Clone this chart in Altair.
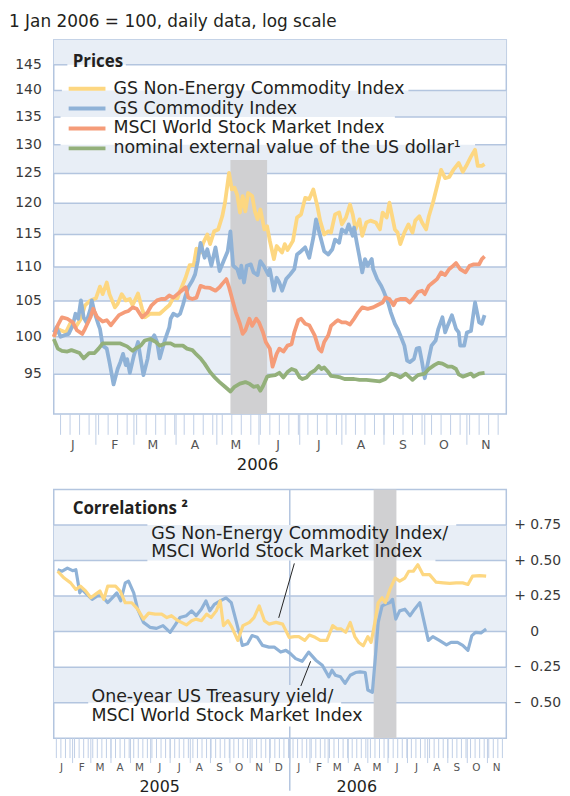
import altair as alt
import pandas as pd

REG = "DejaVu Sans"
BOLD = "Open Sans"
TXT = "#231f20"
AXIS_TXT = "#3a3a3a"
GRID = "#b3c5df"
BAND = "#e8eef6"
SHADE = "#d0d0d2"
TICK = "#bfcfe6"

month_letters = ["J", "F", "M", "A", "M", "J", "J", "A", "S", "O", "N", "D"]

# ---------------- top panel: prices (1 Jan 2006 = 100), points = (days since 1 Jan 2006, value)
header_text = ["1 Jan 2006 = 100, daily data, log scale"]
top_names = ["GS Non-Energy Commodity Index", "GS Commodity Index",
             "MSCI World Stock Market Index", "nominal external value of the US dollar¹"]
top_colors = ["#fdd781", "#8fb2d7", "#f59c79", "#93b07a"]
top_ticks = [95, 100, 105, 110, 115, 120, 125, 130, 135, 140, 145]
top_band_lo = [95, 105, 115, 125, 135, 145]
top_band_hi = [100, 110, 120, 130, 140, 150]

nonenergy = [(0,100.0),(3,101.1),(5,100.9),(9,100.6),(12,101.8),(16,101.3),(20,102.5),(23,104.4),(27,105.1),(31,105.4),
             (34,107.1),(36,106.0),(39,107.7),(41,106.0),(45,104.1),(47,104.6),(50,106.0),(53,105.1),(56,105.3),(58,104.4),
             (62,106.1),(65,103.9),(67,102.7),(71,103.2),(75,103.2),(78,103.2),(82,103.9),(85,104.4),(88,105.5),(91,105.4),
             (93,106.5),(97,108.4),(100,110.3),(103,110.3),(105,112.8),(108,112.2),(110,113.7),(113,115.0),(115,113.5),(118,115.5),
             (121,115.8),(124,117.9),(126,120.1),(129,125.1),(131,122.3),(133,122.6),(135,121.4),(137,118.5),(139,121.2),(141,118.7),
             (143,121.7),(146,121.2),(148,118.7),(150,117.4),(152,119.0),(155,115.8),(157,116.3),(159,114.0),(162,111.2),(164,113.2),
             (168,112.2),(170,113.5),(172,112.6),(176,114.0),(179,117.7),(182,118.2),(185,120.9),(188,120.7),(191,122.3),(194,119.5),
             (196,117.2),(199,115.0),(202,115.5),(204,115.3),(207,118.2),(210,118.5),(212,116.6),(215,117.7),(218,119.8),(220,118.2),
             (222,115.8),(225,117.4),(227,114.8),(230,116.9),(233,117.2),(237,116.9),(240,115.8),(242,118.5),(245,117.7),(247,120.1),
             (251,115.8),(253,115.3),(255,113.5),(258,115.3),(261,116.6),(264,115.3),(266,117.2),(269,117.9),(271,116.9),(274,115.8),
             (276,117.9),(279,120.1),(282,122.8),(285,125.6),(288,124.2),(291,124.4),(294,125.6),(298,126.8),(301,125.3),(304,126.5),
             (307,127.9),(310,129.1),(312,126.3),(315,126.3),(317,126.6)]

gsci = [(0,100.6),(2,101.3),(5,100.0),(8,100.2),(11,100.4),(14,101.6),(16,103.2),(18,102.5),(20,105.1),(22,102.7),
        (24,102.0),(27,103.9),(28,105.1),(30,103.4),(33,101.6),(34,101.1),(36,98.8),(39,98.4),(41,96.6),(44,93.7),
        (47,95.7),(49,96.6),(51,97.7),(53,96.2),(54,97.0),(56,95.2),(59,97.5),(62,99.3),(64,97.0),(66,94.9),
        (69,97.0),(71,99.3),(74,100.2),(76,99.3),(78,97.1),(80,98.4),(82,99.7),(85,101.3),(86,102.5),(88,103.2),
        (91,102.9),(93,103.2),(95,104.4),(97,105.8),(99,107.0),(102,108.0),(104,108.9),(106,110.9),(108,113.7),(111,111.4),
        (113,112.7),(116,110.2),(119,113.0),(122,109.4),(125,110.9),(128,112.4),(130,115.5),(132,110.2),(135,109.7),(137,108.4),
        (138,110.2),(140,107.7),(142,110.2),(145,110.4),(147,109.2),(150,108.8),(152,110.9),(155,110.0),(158,108.8),(159,109.7),
        (162,106.5),(164,108.4),(166,107.7),(168,106.5),(171,108.2),(174,108.9),(177,109.7),(179,111.9),(182,112.4),(185,113.0),
        (188,111.4),(191,114.5),(193,117.4),(196,114.8),(199,112.4),(202,111.9),(205,112.7),(207,114.2),(210,113.7),(212,115.8),
        (215,115.3),(217,116.6),(220,114.8),(221,116.1),(223,113.7),(225,111.5),(227,109.2),(229,111.2),(231,110.2),(234,111.2),
        (235,109.7),(238,108.2),(241,107.2),(243,106.3),(246,104.8),(248,103.4),(251,101.8),(253,101.1),(255,100.2),(258,98.8),
        (260,96.8),(262,96.6),(265,97.0),(267,98.4),(269,98.5),(271,96.6),(273,94.5),(276,97.1),(278,98.8),(281,99.5),
        (283,101.1),(286,102.7),(288,100.6),(290,101.6),(293,103.0),(296,101.1),(298,100.6),(299,98.8),(302,98.8),(304,100.6),
        (307,100.8),(310,104.8),(313,102.0),(315,101.8),(317,103.0)]

msci = [(0,100.0),(3,101.6),(6,102.7),(10,102.5),(14,102.0),(17,100.9),(21,100.4),(23,101.1),(27,102.7),(29,103.9),
        (32,102.7),(36,102.1),(39,102.3),(42,101.6),(45,102.3),(48,103.0),(52,103.4),(55,103.6),(58,104.1),(61,103.9),
        (65,102.7),(69,103.4),(72,104.4),(76,105.1),(79,105.3),(82,105.3),(85,105.8),(88,105.5),(91,106.0),(94,106.5),
        (97,107.0),(99,105.5),(102,105.3),(105,105.5),(108,107.2),(111,107.0),(115,106.9),(119,106.5),(122,107.0),(124,107.5),
        (127,108.2),(129,107.0),(132,104.8),(134,103.4),(137,101.8),(139,100.4),(141,100.9),(144,102.5),(146,101.5),(149,102.5),
        (151,102.0),(154,100.6),(156,99.3),(159,98.4),(161,96.0),(164,97.7),(166,98.4),(169,98.0),(172,98.8),(175,99.0),
        (177,100.6),(180,102.3),(182,102.5),(185,101.8),(188,101.6),(192,100.2),(195,98.4),(197,98.0),(199,99.3),(202,100.2),
        (204,101.5),(207,102.0),(209,102.3),(212,102.0),(215,102.0),(218,101.7),(221,102.5),(224,103.4),(227,104.1),(231,103.9),
        (235,104.1),(238,104.4),(242,104.8),(244,105.5),(247,105.3),(250,104.4),(252,105.1),(255,105.3),(259,105.3),(262,104.8),
        (265,105.5),(268,106.3),(271,106.5),(273,106.0),(276,107.2),(279,107.7),(282,108.2),(285,109.2),(288,108.8),(291,109.7),
        (294,110.2),(296,110.6),(299,109.7),(303,109.2),(306,110.2),(309,110.4),(313,110.4),(315,111.2),(317,111.6)]

usd = [(0,99.7),(3,98.4),(6,98.1),(10,98.0),(13,98.2),(16,98.0),(19,97.8),(22,97.1),(26,97.8),(30,97.8),
       (33,98.4),(36,99.1),(41,99.1),(45,99.1),(49,99.1),(54,98.7),(58,98.1),(60,98.4),(64,98.8),(67,99.5),
       (71,99.7),(75,99.3),(78,98.8),(82,99.1),(86,99.1),(89,98.8),(92,98.8),(95,98.8),(98,98.4),(102,98.2),
       (104,97.8),(108,97.1),(111,96.4),(115,95.3),(119,94.5),(122,94.0),(126,93.4),(130,92.8),(133,93.4),(137,93.8),
       (141,94.0),(144,93.8),(147,93.4),(150,93.5),(152,92.9),(154,93.5),(157,94.7),(159,94.8),(163,94.9),(166,95.2),
       (169,94.6),(172,95.3),(175,95.7),(178,95.5),(181,94.6),(183,94.4),(186,94.6),(189,95.2),(192,95.5),(195,96.1),
       (197,95.7),(199,95.9),(202,95.3),(204,94.8),(208,94.7),(211,94.6),(214,94.4),(217,94.4),(221,94.4),(225,94.3),
       (230,94.3),(235,94.2),(240,94.1),(244,94.4),(248,95.1),(252,94.9),(255,94.6),(259,95.1),(264,94.3),(268,94.9),
       (273,95.1),(276,95.7),(280,96.2),(283,96.5),(286,96.4),(290,96.0),(293,96.0),(296,95.7),(298,95.0),(301,94.7),
       (304,94.9),(307,95.1),(309,94.7),(313,95.1),(317,95.2)]

# ---------------- bottom panel: correlations, points = (days since 3 Jan 2005, value)
bot_names = ["One-year US Treasury yield / MSCI World Stock Market Index",
             "GS Non-Energy Commodity Index / MSCI World Stock Market Index"]
bot_colors = ["#8fb2d7", "#fdd781"]
corr_ticks = [0.75, 0.5, 0.25, 0, -0.25, -0.5]
corr_signs = ["+", "+", "+", "", "–", "–"]
corr_nums = ["0.75", "0.50", "0.25", "0", "0.25", "0.50"]
bot_band_lo = [-0.5, 0.0, 0.5]
bot_band_hi = [-0.25, 0.25, 0.75]

corr_yield = [(6,.436),(13,.425),(21,.447),(29,.429),(34,.436),(40,.273),(43,.297),(51,.262),(59,.227),(67,.251),
              (74,.251),(83,.204),(90,.238),(97,.273),(103,.216),(110,.343),(115,.355),(123,.273),(129,.158),(138,.065),
              (148,.030),(158,.023),(168,.042),(179,-.005),(186,.042),(194,.099),(204,.112),(212,.146),(219,.112),(227,.158),
              (234,.216),(240,.146),(247,.192),(256,.216),(265,.238),(273,.204),(281,.065),(290,-.097),(298,-.086),(305,-.028),
              (313,-.040),(321,-.097),(331,-.109),(339,-.109),(349,-.144),(357,-.132),(364,-.155),(372,-.190),(382,-.209),(392,-.144),
              (403,-.201),(413,-.236),(423,-.318),(428,-.272),(433,-.307),(441,-.318),(448,-.364),(456,-.307),(464,-.288),(471,-.283),
              (479,-.288),(483,-.411),(490,-.427),(494,-.214),(499,.065),(505,.181),(510,.192),(517,.204),(521,.227),(526,.088),
              (532,.146),(540,.158),(548,.112),(555,.158),(563,.204),(576,-.062),(583,-.035),(593,-.062),(604,-.093),(611,-.076),
              (621,-.076),(629,-.097),(637,-.132),(643,-.028),(649,-.005),(657,-.009),(665,.019)]

corr_commod = [(6,.425),(16,.377),(26,.343),(34,.297),(41,.320),(49,.286),(57,.238),(64,.262),(71,.286),(77,.227),
               (83,.320),(95,.320),(102,.286),(110,.203),(120,.203),(129,.158),(138,.088),(146,.130),(156,.123),(166,.123),
               (174,.099),(181,.112),(191,.077),(204,.047),(212,.077),(219,.088),(227,.077),(235,.123),(242,.099),(250,.146),
               (256,.216),(261,.042),(268,.077),(274,.030),(283,-.062),(291,.042),(301,.065),(308,.099),(316,.181),(324,.077),
               (331,.053),(342,.065),(352,.053),(362,-.040),(370,-.035),(377,-.035),(386,-.062),(393,-.024),(402,-.040),(410,-.062),
               (420,-.062),(429,.042),(436,.019),(442,.019),(449,-.005),(456,.065),(463,-.035),(469,-.076),(476,-.100),(483,-.035),
               (488,-.076),(493,.042),(499,.204),(505,.238),(510,.204),(517,.297),(525,.377),(532,.355),(540,.377),(546,.425),
               (553,.425),(560,.471),(568,.401),(578,.401),(588,.348),(599,.343),(609,.339),(619,.343),(629,.343),(637,.332),
               (644,.390),(655,.394),(665,.390)]

annot_lines = ["GS Non-Energy Commodity Index/", "MSCI World Stock Market Index",
               "One-year US Treasury yield/", "MSCI World Stock Market Index"]


def frame(points, base, name):
    d, v = zip(*points)
    return pd.DataFrame({"date": pd.Timestamp(base) + pd.to_timedelta(list(d), unit="D"),
                         "value": list(v), "series": name})


def month_labels(months):
    return pd.DataFrame({"d": [pd.Timestamp(y, m, 15) for y, m in months],
                         "t": [month_letters[m - 1] for _, m in months]})


# ======================= TOP PANEL =======================
W, H = 455, 376
x_top = alt.Scale(domain=[alt.DateTime(year=2006, month=1, date=1),
                          alt.DateTime(year=2006, month=11, date=30)])
y_top = alt.Scale(type="log", domain=[90, 150], nice=False)
color_top = alt.Scale(domain=top_names, range=top_colors)

top_df = pd.concat([frame(p, "2006-01-01", n) for p, n in
                    zip([nonenergy, gsci, msci, usd], top_names)], ignore_index=True)

bands_t = alt.Chart(pd.DataFrame({"lo": top_band_lo, "hi": top_band_hi})).mark_rect(color=BAND).encode(
    x=alt.value(0), x2=alt.value(W), y=alt.Y("lo:Q", scale=y_top, axis=None), y2="hi:Q")

grid_top = pd.DataFrame({
    "v": [145, 145, 140, 140, 135, 135, 130, 130, 125, 120, 115, 110, 105, 100, 95],
    "x0": pd.to_datetime(["2006-01-01", "2006-02-23", "2006-01-01", "2006-09-19", "2006-01-01", "2006-09-09",
                          "2006-01-01", "2006-11-07"] + ["2006-01-01"] * 7),
    "x1": pd.to_datetime(["2006-01-11", "2006-11-30", "2006-01-07", "2006-11-30", "2006-01-06", "2006-11-30",
                          "2006-01-06", "2006-11-30"] + ["2006-11-30"] * 7)})
grid_t = alt.Chart(grid_top).mark_rule(color=GRID, strokeWidth=1.5).encode(
    x=alt.X("x0:T", scale=x_top, axis=None), x2="x1:T", y=alt.Y("v:Q", scale=y_top, axis=None))

shade_t = alt.Chart(pd.DataFrame({"s": pd.to_datetime(["2006-05-11"]), "e": pd.to_datetime(["2006-06-07"]),
                                  "lo": [90], "hi": [127.3]})).mark_rect(color=SHADE).encode(
    x=alt.X("s:T", scale=x_top, axis=None), x2="e:T", y=alt.Y("lo:Q", scale=y_top, axis=None), y2="hi:Q")

wk_t = alt.Chart(pd.DataFrame({"d": pd.date_range("2006-01-06", "2006-11-30", freq="7D")})).mark_rule(
    color=TICK, strokeWidth=1).encode(x=alt.X("d:T", scale=x_top, axis=None), y=alt.value(H), y2=alt.value(H + 21))
mo_t = alt.Chart(pd.DataFrame({"d": pd.date_range("2006-02-01", "2006-11-01", freq="MS")})).mark_rule(
    color=TICK, strokeWidth=1).encode(x=alt.X("d:T", scale=x_top, axis=None), y=alt.value(H), y2=alt.value(H + 31))

lines_t = alt.Chart(top_df).mark_line(strokeWidth=3.8, strokeJoin="round").encode(
    x=alt.X("date:T", scale=x_top, axis=None),
    y=alt.Y("value:Q", scale=y_top, axis=None),
    color=alt.Color("series:N", scale=color_top, legend=None),
    detail="series:N")

ylab_t = alt.Chart(pd.DataFrame({"v": top_ticks, "t": [str(v) for v in top_ticks]})).mark_text(
    align="right", baseline="middle", font=REG, fontSize=14, color=AXIS_TXT).encode(
    x=alt.value(-12), y=alt.Y("v:Q", scale=y_top, axis=None), text="t:N")
mlab_t = alt.Chart(month_labels([(2006, m) for m in range(1, 12)])).mark_text(
    align="center", baseline="middle", font=REG, fontSize=12.5, color="#555555").encode(
    x=alt.X("d:T", scale=x_top, axis=None), y=alt.value(H + 31), text="t:N")

prices_t = alt.Chart(pd.DataFrame({"t": ["Prices"]})).mark_text(
    align="left", baseline="middle", font=BOLD, fontSize=17, fontWeight="bold", color=TXT).encode(
    x=alt.value(19), y=alt.value(22), text="t:N")
header_t = alt.Chart(pd.DataFrame({"t": header_text})).mark_text(
    align="left", baseline="middle", font=REG, fontSize=17, color=TXT).encode(
    x=alt.value(-45), y=alt.value(-18), text="t:N")
year_t = alt.Chart(pd.DataFrame({"d": pd.to_datetime(["2006-05-31"]), "t": ["2006"]})).mark_text(
    align="center", baseline="middle", font=REG, fontSize=16.5, color=TXT).encode(
    x=alt.X("d:T", scale=x_top, axis=None), y=alt.value(H + 51), text="t:N")

leg_y = alt.Y("series:N", scale=alt.Scale(type="point", domain=top_names, range=[49, 109], padding=0), axis=None)
leg_df = pd.DataFrame({"series": top_names})
leg_rule = alt.Chart(leg_df).mark_rule(strokeWidth=4).encode(
    x=alt.value(15), x2=alt.value(52), y=leg_y, color=alt.Color("series:N", scale=color_top, legend=None))
leg_text = alt.Chart(leg_df).mark_text(align="left", baseline="middle", font=REG, fontSize=17.5, color=TXT).encode(
    x=alt.value(60), y=leg_y, text="series:N")

top_main = alt.layer(bands_t, grid_t, shade_t, wk_t, mo_t, lines_t, ylab_t, mlab_t, prices_t, header_t, year_t)
top = alt.layer(top_main, alt.layer(leg_rule, leg_text)).resolve_scale(y="independent").properties(width=W, height=H)

# ======================= BOTTOM PANEL =======================
BW, BH = 455, 250
x_bot = alt.Scale(domain=[alt.DateTime(year=2005, month=1, date=3),
                          alt.DateTime(year=2006, month=11, date=30)])
y_bot = alt.Scale(domain=[-0.75, 1.0], nice=False, zero=False)
color_bot = alt.Scale(domain=bot_names, range=bot_colors)

bot_df = pd.concat([frame(p, "2005-01-03", n) for p, n in zip([corr_yield, corr_commod], bot_names)],
                   ignore_index=True)

bands_b = alt.Chart(pd.DataFrame({"lo": bot_band_lo, "hi": bot_band_hi})).mark_rect(color=BAND).encode(
    x=alt.value(0), x2=alt.value(BW), y=alt.Y("lo:Q", scale=y_bot, axis=None), y2="hi:Q")

grid_bot = pd.DataFrame({
    "v": [0.75, 0.75, 0.5, 0.5, 0.25, 0.0, -0.25, -0.5, -0.5],
    "x0": pd.to_datetime(["2005-01-03", "2006-09-14", "2005-01-03", "2006-08-13", "2005-01-03", "2005-01-03",
                          "2005-01-03", "2005-01-03", "2006-03-21"]),
    "x1": pd.to_datetime(["2005-05-27", "2006-11-30", "2005-05-27", "2006-11-30", "2006-11-30", "2006-11-30",
                          "2006-11-30", "2005-02-25", "2006-11-30"])})
grid_b = alt.Chart(grid_bot).mark_rule(color=GRID, strokeWidth=1.5).encode(
    x=alt.X("x0:T", scale=x_bot, axis=None), x2="x1:T", y=alt.Y("v:Q", scale=y_bot, axis=None))

vline_b = alt.Chart(pd.DataFrame({"d": pd.to_datetime(["2006-01-01"] * 3),
                                  "y0": [1.0, 0.5, -0.668], "y1": [0.75, -0.376, -1.12]})).mark_rule(
    color=GRID, strokeWidth=1.5).encode(
    x=alt.X("d:T", scale=x_bot, axis=None), y=alt.Y("y0:Q", scale=y_bot, axis=None), y2="y1:Q")

shade_b = alt.Chart(pd.DataFrame({"s": pd.to_datetime(["2006-05-10"]), "e": pd.to_datetime(["2006-06-14"]),
                                  "lo": [-0.75], "hi": [1.0]})).mark_rect(color=SHADE).encode(
    x=alt.X("s:T", scale=x_bot, axis=None), x2="e:T", y=alt.Y("lo:Q", scale=y_bot, axis=None), y2="hi:Q")

wk_b = alt.Chart(pd.DataFrame({"d": pd.date_range("2005-01-07", "2006-11-30", freq="7D")})).mark_rule(
    color=TICK, strokeWidth=1).encode(x=alt.X("d:T", scale=x_bot, axis=None), y=alt.value(BH), y2=alt.value(BH + 20))
mo_b = alt.Chart(pd.DataFrame({"d": pd.date_range("2005-02-01", "2006-11-01", freq="MS")})).mark_rule(
    color=TICK, strokeWidth=1).encode(x=alt.X("d:T", scale=x_bot, axis=None), y=alt.value(BH), y2=alt.value(BH + 25))

lines_b = alt.Chart(bot_df).mark_line(strokeWidth=3.2, strokeJoin="round").encode(
    x=alt.X("date:T", scale=x_bot, axis=None),
    y=alt.Y("value:Q", scale=y_bot, axis=None),
    color=alt.Color("series:N", scale=color_bot, legend=None),
    detail="series:N")

mlab_b = alt.Chart(month_labels([(y, m) for y in (2005, 2006) for m in range(1, 13) if not (y == 2006 and m == 12)])
                   ).mark_text(align="center", baseline="middle", font=REG, fontSize=10.5, color="#555555").encode(
    x=alt.X("d:T", scale=x_bot, axis=None), y=alt.value(BH + 30), text="t:N")

leaders = pd.DataFrame({"x0": pd.to_datetime(["2006-01-08", "2006-01-18"]), "y0": [0.48, -0.383],
                        "x1": pd.to_datetime(["2005-12-15", "2006-02-02"]), "y1": [0.097, -0.209]})
leader_b = alt.Chart(leaders).mark_rule(color="#222222", strokeWidth=1).encode(
    x=alt.X("x0:T", scale=x_bot, axis=None), y=alt.Y("y0:Q", scale=y_bot, axis=None), x2="x1:T", y2="y1:Q")

annot = pd.DataFrame({"d": pd.to_datetime(["2005-06-02", "2005-06-02", "2005-03-02", "2005-03-02"]),
                      "v": [0.689, 0.557, -0.457, -0.597], "t": annot_lines})
annot_b = alt.Chart(annot).mark_text(align="left", baseline="middle", font=REG, fontSize=17.5, color=TXT).encode(
    x=alt.X("d:T", scale=x_bot, axis=None), y=alt.Y("v:Q", scale=y_bot, axis=None), text="t:N")

corr_title = alt.Chart(pd.DataFrame({"t": ["Correlations ²"]})).mark_text(
    align="left", baseline="middle", font=BOLD, fontSize=17, fontWeight="bold", color=TXT).encode(
    x=alt.value(19), y=alt.value(20), text="t:N")

ylab = pd.DataFrame({"v": corr_ticks, "s": corr_signs, "n": corr_nums})
sign_b = alt.Chart(ylab).mark_text(align="left", baseline="middle", font=REG, fontSize=14, color=AXIS_TXT).encode(
    x=alt.value(BW + 8), y=alt.Y("v:Q", scale=y_bot, axis=None), text="s:N")
num_b = alt.Chart(ylab).mark_text(align="left", baseline="middle", font=REG, fontSize=14, color=AXIS_TXT).encode(
    x=alt.value(BW + 24), y=alt.Y("v:Q", scale=y_bot, axis=None), text="n:N")

years_b = alt.Chart(pd.DataFrame({"d": pd.to_datetime(["2005-06-15", "2006-04-14"]), "t": ["2005", "2006"]})).mark_text(
    align="center", baseline="middle", font=REG, fontSize=16, color=TXT).encode(
    x=alt.X("d:T", scale=x_bot, axis=None), y=alt.value(BH + 48.7), text="t:N")

bottom = alt.layer(bands_b, grid_b, vline_b, shade_b, wk_b, mo_b, lines_b, mlab_b, leader_b, annot_b,
                   corr_title, sign_b, num_b, years_b).properties(width=BW, height=BH)

chart = alt.vconcat(top, bottom, spacing=76, bounds="flush").resolve_scale(color="independent").configure_view(
    stroke=GRID, strokeWidth=1.5).properties(padding={"left": 0, "top": 2, "right": 0, "bottom": 0})

chart.save("out.html", embed_options={"renderer": "svg", "actions": False})
